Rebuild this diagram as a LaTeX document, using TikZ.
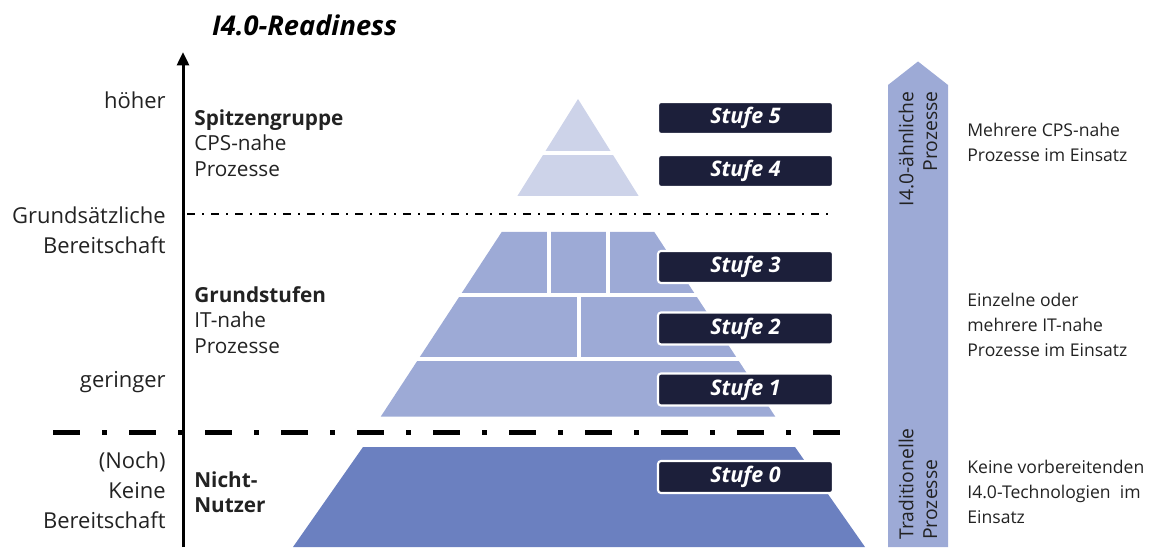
\documentclass[tikz,border=0pt]{standalone}
\usepackage{fontspec}
\setmainfont{Open Sans}
\usetikzlibrary{arrows.meta}

\definecolor{toplevel}{HTML}{CDD3E9}
\definecolor{midlevel}{HTML}{9DAAD6}
\definecolor{baselevel}{HTML}{6B80C0}
\definecolor{stufebox}{HTML}{1C1F3A}
\definecolor{labeltext}{HTML}{222222}

\begin{document}
\begin{tikzpicture}[stufe/.style={fill=stufebox, draw=white, line width=1.2pt, rounded corners=0.06cm,
                        minimum width=3.5cm, minimum height=0.64cm, inner sep=0pt,
                        text=white, font=\fontsize{12.2}{14}\selectfont\bfseries\itshape},
                    leftlabel/.style={anchor=east, align=right, inner sep=0pt, text=labeltext, font=\fontsize{12.5}{17}\selectfont},
                    midlabel/.style={anchor=west, align=left, inner sep=0pt, text=labeltext, font=\fontsize{11.8}{14.5}\selectfont},
                    rightlabel/.style={anchor=west, align=left, inner sep=0pt, text=labeltext, font=\fontsize{10}{14.2}\selectfont},
                    arrowlabel/.style={rotate=90, inner sep=0pt, text=labeltext, font=\fontsize{11}{13.5}\selectfont},
                    gapline/.style={white, line width=0.08cm}]
    \useasboundingbox (0,0) rectangle (23.1,10.94);

    % pyramid, top part
    \fill[toplevel] (11.56,8.96) -- (12.7725,7.02) -- (10.3475,7.02) -- cycle;
    \draw[gapline] (10.0,7.87) -- (13.1,7.87);
    % pyramid, middle part
    \fill[midlevel] (10.034,6.30) -- (13.086,6.30) -- (15.506,2.606) -- (7.614,2.606) -- cycle;
    \draw[gapline] (7.0,5.04) -- (16.0,5.04);
    \draw[gapline] (7.0,3.76) -- (16.0,3.76);
    \draw[gapline] (10.98,6.4) -- (10.98,5.04);
    \draw[gapline] (12.15,6.4) -- (12.15,5.04);
    \draw[gapline] (11.58,5.04) -- (11.58,3.76);
    % pyramid, base
    \fill[baselevel] (7.26,2.00) -- (15.90,2.00) -- (17.30,0) -- (5.86,0) -- cycle;

    % arrow on the right
    \fill[midlevel] (17.76,0) -- (17.76,9.24) -- (18.36,9.71) -- (18.96,9.24) -- (18.96,0) -- cycle;
    \node (iprozess) at (18.36,9.12) [arrowlabel, anchor=east, align=right] {I4.0-ähnliche\\Prozesse};
    \node (tprozess) at (18.36,0.14) [arrowlabel, anchor=west, align=left] {Traditionelle\\Prozesse};

    % axis and borders
    \coordinate (axbot) at (3.66,0);
    \coordinate (axtop) at (3.66,9.9);
    \coordinate (upl) at (3.74,6.66);
    \coordinate (upr) at (16.56,6.66);
    \coordinate (lol) at (1.06,2.29);
    \coordinate (lor) at (16.94,2.29);
    \draw[line width=0.04cm, dash pattern=on 0.16cm off 0.14cm on 0.04cm off 0.14cm] (upl) -- (upr);
    \draw[line width=0.1cm, dash pattern=on 0.54cm off 0.44cm on 0.10cm off 0.44cm] (lol) -- (lor);
    \draw[line width=0.06cm, -{Triangle[width=0.24cm, length=0.27cm]}] (axbot) -- (axtop);

    \node (title) at (6.09,10.44) [font=\fontsize{15.5}{18}\selectfont\bfseries\itshape] {I4.0-Readiness};

    % stufen
    \node (s5) at (14.91,8.58) [stufe] {Stufe 5};
    \node (s4) at (14.91,7.52) [stufe] {Stufe 4};
    \node (s3) at (14.91,5.60) [stufe] {Stufe 3};
    \node (s2) at (14.91,4.37) [stufe] {Stufe 2};
    \node (s1) at (14.91,3.15) [stufe] {Stufe 1};
    \node (s0) at (14.91,1.40) [stufe] {Stufe 0};

    % left side
    \node (hoeher) at (3.32,8.94) [leftlabel] {höher};
    \node (grund) at (3.32,6.34) [leftlabel] {Grundsätzliche\\Bereitschaft};
    \node (geringer) at (3.32,3.30) [leftlabel] {geringer};
    \node (keine) at (3.32,1.14) [leftlabel] {(Noch)\\Keine\\Bereitschaft};

    \node (spitze) at (3.88,8.08) [midlabel] {\textbf{Spitzengruppe}\\CPS-nahe\\Prozesse};
    \node (gstufen) at (3.88,4.54) [midlabel] {\textbf{Grundstufen}\\IT-nahe\\Prozesse};
    \node (nutzer) at (3.88,1.10) [midlabel] {\textbf{Nicht-}\\\textbf{Nutzer}};

    % right side
    \node (cps) at (19.34,8.10) [rightlabel] {Mehrere CPS-nahe\\Prozesse im Einsatz};
    \node (itnah) at (19.34,4.44) [rightlabel] {Einzelne oder\\mehrere IT-nahe\\Prozesse im Einsatz};
    \node (trad) at (19.34,1.10) [rightlabel] {Keine vorbereitenden\\I4.0-Technologien~ im\\Einsatz};
\end{tikzpicture}
\end{document}
